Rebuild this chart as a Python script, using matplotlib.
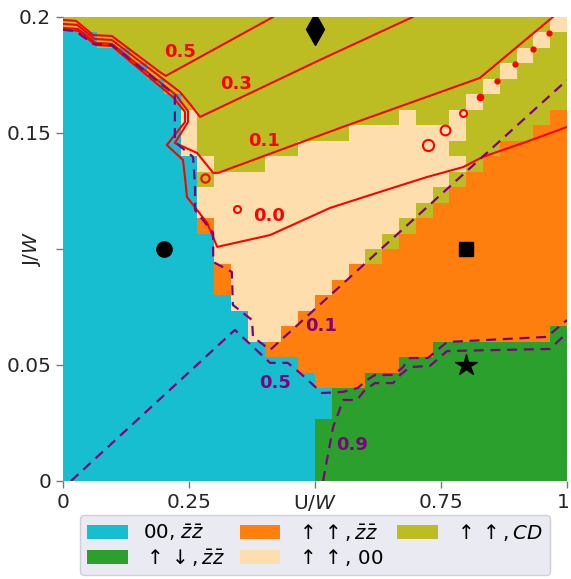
import numpy as np
import matplotlib.pyplot as plt
from matplotlib.colors import ListedColormap, BoundaryNorm
from matplotlib.patches import Patch
from matplotlib.transforms import ScaledTranslation

# phase keys and legend
phase_keys = 'CGOPY'
phase_colors = ['#17becf', '#2ca02c', '#ff7f0e', '#ffdead', '#bcbd22']
phase_labels = [r'00, $\bar{z}\bar{z}$',
                r'$\uparrow\downarrow, \bar{z}\bar{z}$',
                r'$\uparrow\uparrow, \bar{z}\bar{z}$',
                r'$\uparrow\uparrow$, 00',
                r'$\uparrow\uparrow, CD$']

# 30 x 30 phase grid, top row (J/W = 0.2) first, U/W from 0 to 1
phase_rows = [
    'YYYYY YYYYY YYYYY YYYYY YYYYY YYYYP',
    'CCYYY YYYYY YYYYY YYYYY YYYYY YYYPY',
    'CCCCY YYYYY YYYYY YYYYY YYYYY YYPYY',
    'CCCCC YYYYY YYYYY YYYYY YYYYY YPYYY',
    'CCCCC CYYYY YYYYY YYYYY YYYYY PYYYY',
    'CCCCC CCYYY YYYYY YYYYY YYYYP YYYYY',
    'CCCCC CCPYY YYYYY YYYYY PYYPY YYYYO',
    'CCCCC CCPYY YYYYY YYPPP PPPPY YYYOO',
    'CCCCC CCPYY YYYYP PPPPP PPPYY YOOOO',
    'CCCCC CCCPY YYPPP PPPPP PPPPY OOOOO',
    'CCCCC CCCYP PPPPP PPPPP PPPYO OOOOO',
    'CCCCC CCCPP PPPPP PPPPP PPYOO OOOOO',
    'CCCCC CCCPP PPPPP PPPPP PYOOO OOOOO',
    'CCCCC CCCOP PPPPP PPPPP YOOOO OOOOO',
    'CCCCC CCCCP PPPPP PPPPY OOOOO OOOOO',
    'CCCCC CCCCP PPPPP PPPYO OOOOO OOOOO',
    'CCCCC CCCCO PPPPP PPOOO OOOOO OOOOO',
    'CCCCC CCCCO PPPPP POOOO OOOOO OOOOO',
    'CCCCC CCCCC PPPPP OOOOO OOOOO OOOOO',
    'CCCCC CCCCC CPPPO OOOOO OOOOO OOOOO',
    'CCCCC CCCCC CPPOO OOOOO OOOOO OOOOG',
    'CCCCC CCCCC CCOOO OOOOO OOGGG GGGGG',
    'CCCCC CCCCC CCCCO OOOOO GGGGG GGGGG',
    'CCCCC CCCCC CCCCC OOOGG GGGGG GGGGG',
    'CCCCC CCCCC CCCCC CGGGG GGGGG GGGGG',
    'CCCCC CCCCC CCCCC CGGGG GGGGG GGGGG',
    'CCCCC CCCCC CCCCC GGGGG GGGGG GGGGG',
    'CCCCC CCCCC CCCCC GGGGG GGGGG GGGGG',
    'CCCCC CCCCC CCCCC GGGGG GGGGG GGGGG',
    'CCCCC CCCCC CCCCC GGGGG GGGGG GGGGG',
]

# red contours
red_05_x = [0, 0.026, 0.060, 0.097, 0.192, 0.204, 0.417]
red_05_y = [0.1987, 0.1983, 0.1922, 0.1918, 0.1763, 0.1746, 0.2]
red_03_x = [0, 0.028, 0.063, 0.097, 0.232, 0.252, 0.272, 0.510, 0.694]
red_03_y = [0.1970, 0.1966, 0.1905, 0.1901, 0.1677, 0.1625, 0.1569, 0.1815, 0.2]
red_01_x = [0, 0.030, 0.065, 0.097, 0.224, 0.248, 0.248, 0.222, 0.266,
            0.298, 0.308, 0.550, 0.827, 0.972]
red_01_y = [0.1953, 0.1948, 0.1888, 0.1884, 0.1664, 0.1595, 0.1547, 0.1457,
            0.1414, 0.1328, 0.1328, 0.1522, 0.1737, 0.2]
red_00_x = [0, 0.030, 0.065, 0.097, 0.218, 0.242, 0.242, 0.206, 0.238, 0.242,
            0.246, 0.286, 0.306, 0.411, 0.530, 0.629, 0.722, 0.794, 0.833,
            0.913, 1.0]
red_00_y = [0.1944, 0.1940, 0.1879, 0.1875, 0.1655, 0.1591, 0.1547, 0.1448,
            0.1384, 0.1310, 0.1224, 0.1112, 0.1009, 0.1060, 0.1177, 0.1246,
            0.1310, 0.1353, 0.1397, 0.1457, 0.1526]
# small closed red loops
loop_x = [0.965, 0.932, 0.897, 0.862, 0.827, 0.793, 0.758, 0.725, 0.282, 0.345]
loop_y = [0.1932, 0.1862, 0.1796, 0.1725, 0.1654, 0.1585, 0.1513, 0.1448,
          0.1306, 0.1172]
loop_size = [3, 3, 3, 3, 4, 5, 7, 8, 6, 5]

# purple dashed contours
pur_01_x = [0, 0.024, 0.060, 0.097, 0.222, 0.222, 0.258, 0.262, 0.262, 0.298,
            0.298, 0.335, 0.337, 0.375, 0.377, 0.411, 0.629, 1.0]
pur_01_y = [0.1944, 0.1940, 0.1884, 0.1879, 0.1664, 0.1461, 0.1397, 0.1276,
            0.1168, 0.1069, 0.0944, 0.0901, 0.0759, 0.0694, 0.0621, 0.0565,
            0.0996, 0.1728]
pur_05_x = [0.016, 0.341, 0.411, 0.446, 0.470, 0.514, 0.556, 0.585, 0.603,
            0.619, 0.655, 0.673, 0.688, 0.724, 0.762, 0.960, 1.0]
pur_05_y = [0, 0.0651, 0.0509, 0.0509, 0.0466, 0.0379, 0.0384, 0.0401, 0.0435,
            0.0457, 0.0457, 0.0487, 0.0530, 0.0530, 0.0599, 0.0621, 0.0694]
pur_09_x = [0.516, 0.536, 0.556, 0.583, 0.599, 0.619, 0.655, 0.669, 0.688,
            0.728, 0.762, 0.966, 1.0]
pur_09_y = [0, 0.0233, 0.0349, 0.0349, 0.0392, 0.0422, 0.0422, 0.0457, 0.0491,
            0.0496, 0.0560, 0.0569, 0.0638]

grid = np.array([[phase_keys.index(c) for c in ''.join(r.split())]
                 for r in phase_rows[::-1]])
x_edges = np.linspace(0, 1, grid.shape[1] + 1)
y_edges = np.linspace(0, 0.2, grid.shape[0] + 1)

fig = plt.figure(figsize=(5.71, 5.79), dpi=100)
ax = fig.add_axes([0.1103, 0.1693, 0.8827, 0.8014])

cmap = ListedColormap(phase_colors)
norm = BoundaryNorm(np.arange(-0.5, len(phase_colors)), cmap.N)
ax.pcolormesh(x_edges, y_edges, grid, cmap=cmap, norm=norm)

# order-parameter contours
for xs, ys in [(red_05_x, red_05_y), (red_03_x, red_03_y),
               (red_01_x, red_01_y), (red_00_x, red_00_y)]:
    ax.plot(xs, ys, color='red', lw=1.5)
for x, y, s in zip(loop_x, loop_y, loop_size):
    ax.plot(x, y, 'o', ms=s, mfc='red' if s <= 4 else 'none',
            mec='red', mew=1.5)
for xs, ys in [(pur_01_x, pur_01_y), (pur_05_x, pur_05_y),
               (pur_09_x, pur_09_y)]:
    ax.plot(xs, ys, color='purple', lw=1.6, ls=(0, (4.5, 3)))

lab = dict(fontsize=13, fontweight='bold', ha='center', va='center')
ax.text(0.232, 0.1850, '0.5', color='red', **lab)
ax.text(0.343, 0.1711, '0.3', color='red', **lab)
ax.text(0.399, 0.1467, '0.1', color='red', **lab)
ax.text(0.409, 0.1144, '0.0', color='red', **lab)
ax.text(0.513, 0.0669, '0.1', color='purple', **lab)
ax.text(0.421, 0.0421, '0.5', color='purple', **lab)
ax.text(0.574, 0.0155, '0.9', color='purple', **lab)

# reference points
ax.plot(0.2, 0.1, 'o', color='k', ms=11)
ax.plot(0.8, 0.1, 's', color='k', ms=10)
ax.plot(0.8, 0.05, '*', color='k', ms=16)
ax.plot(0.5, 0.195, 'd', color='k', ms=16)

ax.set_xlim(0, 1)
ax.set_ylim(0, 0.2)
ax.set_xticks([0, 0.25, 0.5, 0.75, 1])
ax.set_xticklabels(['0', '0.25', 'U/$W$', '0.75', '1'])
ax.set_yticks([0, 0.05, 0.1, 0.15, 0.2])
ax.set_yticklabels(['0', '0.05', '', '0.15', '0.2'])
ax.set_ylabel('J/$W$', fontsize=14.5, color='#262626')
ax.yaxis.set_label_coords(-0.04, 0.5)
ax.tick_params(labelsize=14.5, labelcolor='#262626', color='#777777',
               length=5, width=1)
# keep the last x tick label inside the canvas
last = ax.get_xticklabels()[-1]
last.set_transform(last.get_transform()
                   + ScaledTranslation(-3 / 72, 0, fig.dpi_scale_trans))
for s in ax.spines.values():
    s.set_visible(False)

handles = [Patch(facecolor=c, label=l) for c, l in zip(phase_colors, phase_labels)]
leg = ax.legend(handles=handles, loc='upper center', bbox_to_anchor=(0.5, -0.073),
                ncol=3, fontsize=14.3, handlelength=2.05, handleheight=0.75,
                handletextpad=0.8, columnspacing=0.7, labelspacing=0.2,
                borderaxespad=0, borderpad=0.35, fancybox=True,
                facecolor='#eaeaf2', edgecolor='#cfcfd8', framealpha=1)

fig.savefig('out.png', dpi=100)
